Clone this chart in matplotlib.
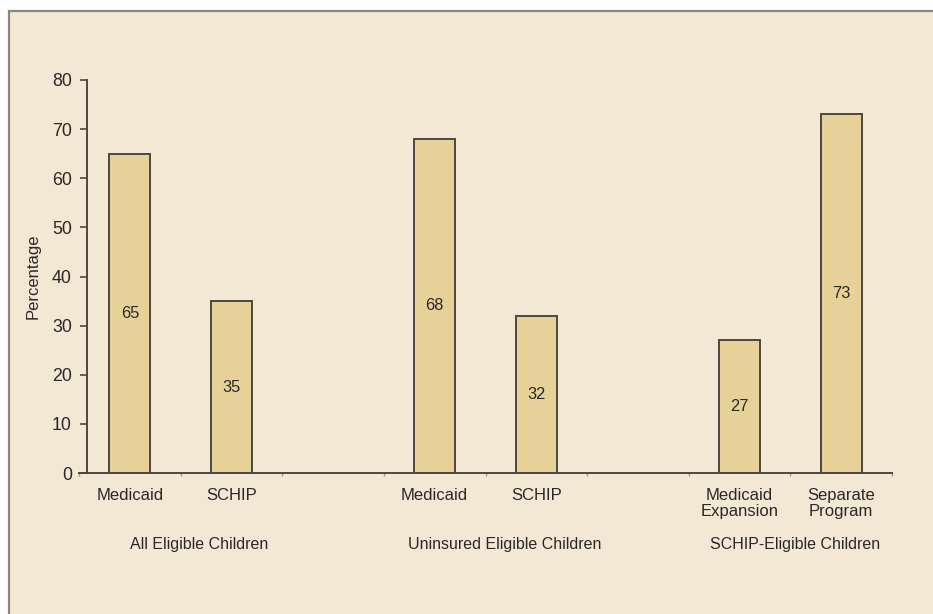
import matplotlib.pyplot as plt
from matplotlib.patches import Rectangle

# data
bar_labels = ['Medicaid', 'SCHIP', 'Medicaid', 'SCHIP', 'Medicaid\nExpansion', 'Separate\nProgram']
bar_slots = [0, 1, 3, 4, 6, 7]
values = [65, 35, 68, 32, 27, 73]
groups = ['All Eligible Children', 'Uninsured Eligible Children', 'SCHIP-Eligible Children']
group_centers = [1.18, 4.19, 7.05]
yticks = [0, 10, 20, 30, 40, 50, 60, 70, 80]

bg = '#f3e8d3'
bar_color = '#e6d199'
edge = '#4d4741'
txt = '#2a2826'

plt.rcParams['font.family'] = ['Liberation Sans', 'DejaVu Sans']

fig = plt.figure(figsize=(9.33, 6.14), dpi=100)
fig.patch.set_facecolor('white')
# panel background with grey border on top and left
fig.patches.append(Rectangle((9 / 933, -0.1), 1.2, 1 - 11 / 614 + 0.1, transform=fig.transFigure,
                             facecolor=bg, edgecolor='#8a8784', linewidth=1.6, zorder=-10))

ax = fig.add_axes([79 / 933, 1 - 473 / 614, 813 / 933, 393 / 614])
ax.set_facecolor('none')

centers = [s + 0.5 for s in bar_slots]
ax.bar(centers, values, width=0.4, color=bar_color, edgecolor=edge, linewidth=1.4, zorder=2)

for x, v in zip(centers, values):
    ax.text(x, v / 2, str(v), ha='center', va='center', fontsize=11.8, color=txt, zorder=3)

ax.set_xlim(0, 8)
ax.set_ylim(0, 80)

ax.set_yticks(yticks)
ax.tick_params(axis='y', length=5, width=1.2, color=edge, labelsize=12.8, labelcolor=txt, pad=6)
ax.set_ylabel('Percentage', fontsize=12, color=txt, labelpad=8)

ax.set_xticks(range(9))
ax.set_xticklabels([])
ax.tick_params(axis='x', length=2.5, width=1, color='#9a958f')

for sp in ['top', 'right']:
    ax.spines[sp].set_visible(False)
ax.spines['left'].set_position(('outward', -5.8))
ax.spines['left'].set_color(edge)
ax.spines['left'].set_linewidth(1.4)
ax.spines['bottom'].set_color(edge)
ax.spines['bottom'].set_linewidth(1.4)

for x, lab in zip(centers, bar_labels):
    ax.text(x, -3.0, lab, ha='center', va='top', fontsize=12, color=txt, linespacing=1.1)

for x, g in zip(group_centers, groups):
    ax.text(x, -14.6, g, ha='center', va='center', fontsize=11.5, color=txt)

fig.savefig('out.png', dpi=100, facecolor=fig.get_facecolor())
